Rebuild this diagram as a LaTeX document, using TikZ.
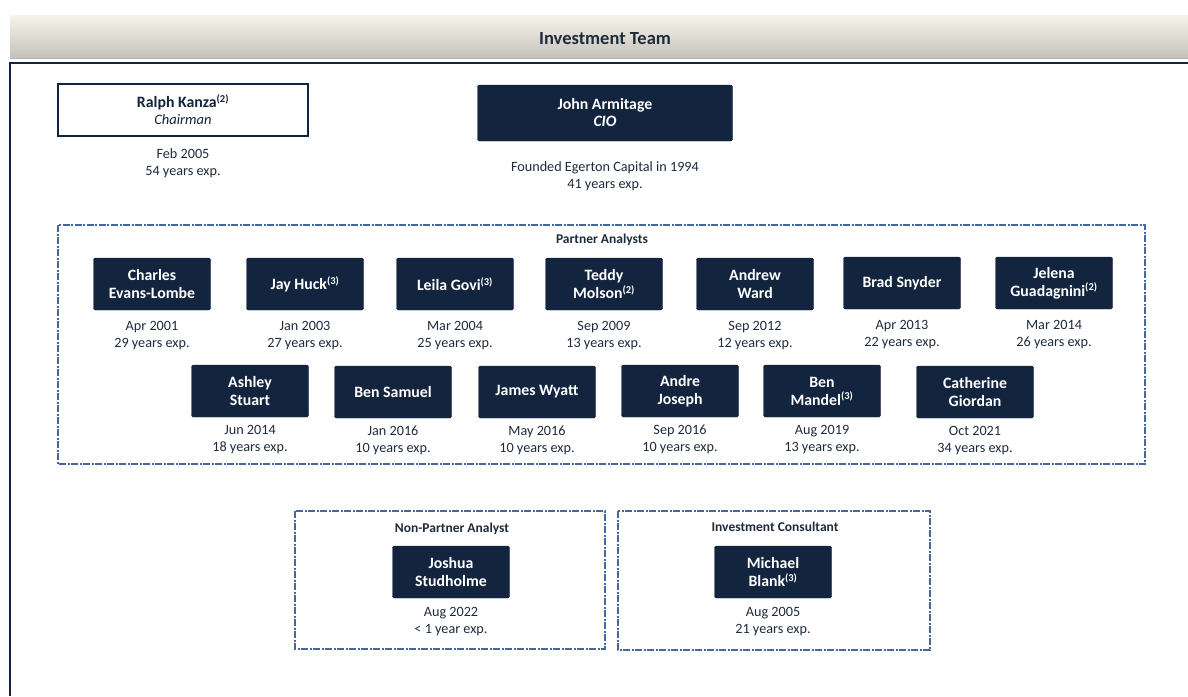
\documentclass[tikz,border=0pt]{standalone}
\usepackage{fontspec}
\setmainfont{Carlito}
\usepackage{xcolor}
\usetikzlibrary{positioning}
\definecolor{navy}{HTML}{13243F}
\definecolor{ink}{HTML}{1E2B3C}
\definecolor{frameblue}{HTML}{4368A0}
\definecolor{bartop}{HTML}{F6F4EA}
\definecolor{barbottom}{HTML}{C4C2BA}
\newcommand{\tmnote}[1]{\textsuperscript{\fontsize{10.5}{10}\selectfont(#1)}}

\begin{document}
\begin{tikzpicture}[x=1pt,y=-1pt,
  every node/.style={font=\fontsize{14.2}{17}\selectfont,text=ink},
  member/.style={fill=navy,draw=navy,rounded corners=1.5pt,align=center,minimum width=117pt,minimum height=52pt,inner sep=2pt,text=white,font=\bfseries\fontsize{15.8}{18}\selectfont},
  tenure/.style={align=center,inner sep=1pt},
  group/.style={draw=frameblue,line width=1.1pt,dash pattern=on 7pt off 1.5pt on 2pt off 1.5pt},
  grouplabel/.style={font=\bfseries\fontsize{13.5}{15}\selectfont}
]
\useasboundingbox (0,0) rectangle (1188,696);
% header bar
\shade[top color=bartop,bottom color=barbottom] (10,15) rectangle (1188,58);
\draw[gray!60,line width=1pt] (10,58) -- (1188,58);
\node[font=\bfseries\fontsize{18.5}{20}\selectfont] (title) at (605,39) {Investment Team};
\draw[navy,line width=1.6pt] (1188,63) -- (10,63) -- (10,696);
% leadership
\node[member,fill=white,text=navy,rounded corners=0pt,line width=2pt,minimum width=250pt] (kanza) at (183,110) {Ralph Kanza\tmnote{2}\\[-1pt]{\mdseries\itshape\fontsize{14.5}{17}\selectfont Chairman}};
\node[tenure,below=10pt of kanza] (kanzaT) {Feb 2005\\54 years exp.};
\node[member,minimum width=255pt,minimum height=56pt] (armitage) at (605,113) {John Armitage\\[-1pt]{\itshape CIO}};
\node[tenure,below=19pt of armitage] (armitageT) {Founded Egerton Capital in 1994\\41 years exp.};
% partner analysts
\draw[group] (58,225) rectangle (1145,464);
\node[grouplabel] (partners) at (602,240) {Partner Analysts};
\node[member] (p1) at (152,284) {Charles\\Evans-Lombe};
\node[member] (p2) at (305,284) {Jay Huck\tmnote{3}};
\node[member] (p3) at (455,284) {Leila Govi\tmnote{3}};
\node[member] (p4) at (604,284) {Teddy\\Molson\tmnote{2}};
\node[member] (p5) at (755,284) {Andrew\\Ward};
\node[member] (p6) at (902,283) {Brad Snyder};
\node[member] (p7) at (1054,283) {Jelena\\Guadagnini\tmnote{2}};
\node[tenure,below=10pt of p1] (p1T) {Apr 2001\\29 years exp.};
\node[tenure,below=10pt of p2] (p2T) {Jan 2003\\27 years exp.};
\node[tenure,below=10pt of p3] (p3T) {Mar 2004\\25 years exp.};
\node[tenure,below=10pt of p4] (p4T) {Sep 2009\\13 years exp.};
\node[tenure,below=10pt of p5] (p5T) {Sep 2012\\12 years exp.};
\node[tenure,below=10pt of p6] (p6T) {Apr 2013\\22 years exp.};
\node[tenure,below=10pt of p7] (p7T) {Mar 2014\\26 years exp.};
\node[member] (q1) at (250,391) {Ashley\\Stuart};
\node[member] (q2) at (393,392) {Ben Samuel};
\node[member] (q3) at (537,392) {James Wyatt};
\node[member] (q4) at (680,391) {Andre\\Joseph};
\node[member] (q5) at (822,391) {Ben\\Mandel\tmnote{3}};
\node[member] (q6) at (975,392) {Catherine\\Giordan};
\node[tenure,below=7pt of q1] (q1T) {Jun 2014\\18 years exp.};
\node[tenure,below=7pt of q2] (q2T) {Jan 2016\\10 years exp.};
\node[tenure,below=7pt of q3] (q3T) {May 2016\\10 years exp.};
\node[tenure,below=7pt of q4] (q4T) {Sep 2016\\10 years exp.};
\node[tenure,below=7pt of q5] (q5T) {Aug 2019\\13 years exp.};
\node[tenure,below=7pt of q6] (q6T) {Oct 2021\\34 years exp.};
% non-partner analyst
\draw[group] (295,511) rectangle (605,649);
\node[grouplabel] (nonpartner) at (452,529) {Non-Partner Analyst};
\node[member] (studholme) at (451,572) {Joshua\\Studholme};
\node[tenure,below=8pt of studholme] (studholmeT) {Aug 2022\\< 1 year exp.};
% investment consultant
\draw[group] (618,511) rectangle (930,650);
\node[grouplabel] (consultant) at (775,527) {Investment Consultant};
\node[member] (blank) at (773,572) {Michael\\Blank\tmnote{3}};
\node[tenure,below=8pt of blank] (blankT) {Aug 2005\\21 years exp.};
\end{tikzpicture}
\end{document}
